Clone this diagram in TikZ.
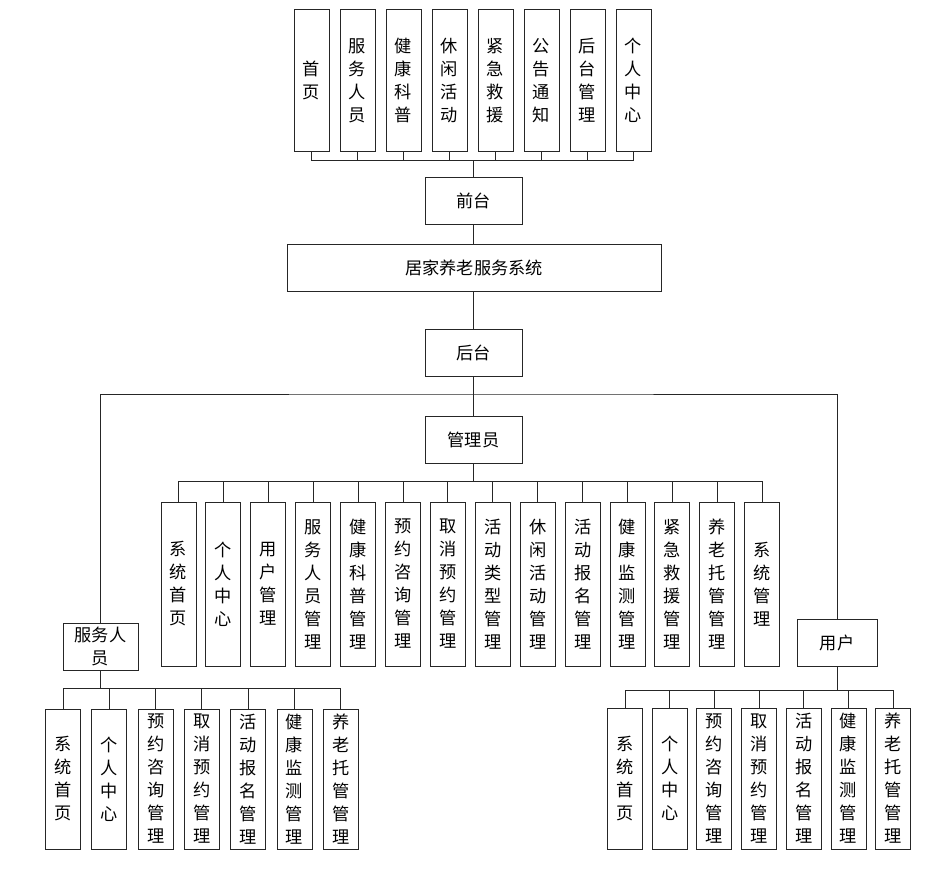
\documentclass[tikz,border=0pt]{standalone}
\usepackage{fontspec}
\setmainfont{Noto Sans CJK SC}
\usetikzlibrary{positioning}
\tikzset{
    box/.style={draw=black!85, line width=0.5pt, minimum width=48.5pt, minimum height=23.5pt, inner sep=0pt, align=center, font=\fontsize{8.6}{11.5}\selectfont},
    tallbox/.style={draw=black!85, line width=0.5pt, minimum width=17.5pt, inner sep=0pt, align=center, font=\fontsize{8.6}{11.5}\selectfont},
    wire/.style={line width=0.5pt, black!85}
}
\begin{document}
\begin{tikzpicture}[x=0.5pt, y=-0.5pt]
    \useasboundingbox (0,0) rectangle (946,872);
    % front end
    \node[box] (qiantai) at (473.5,200.5) {前台};
    \coordinate (fbus) at (473.5,160);
    \foreach \i/\t in {0/{首\\页}, 1/{服\\务\\人\\员}, 2/{健\\康\\科\\普}, 3/{休\\闲\\活\\动},
                       4/{紧\\急\\救\\援}, 5/{公\\告\\通\\知}, 6/{后\\台\\管\\理}, 7/{个\\人\\中\\心}} {
        \node[tallbox, minimum height=70.5pt] (f\i) at (311.5+46*\i,80.5) {\t};
        \draw[wire] (f\i.south) |- (fbus) -- (qiantai.north);
    }
    \node[box, minimum width=187pt] (sys) at (474,267.5) {居家养老服务系统};
    \draw[wire] (qiantai.south) -- (sys.north -| qiantai.south);
    % back end
    \node[box] (houtai) at (473.5,353) {后台};
    \draw[wire] (sys.south -| houtai.north) -- (houtai.north);
    \node[box] (admin) at (473.5,439.5) {管理员};
    \draw[wire] (houtai.south) -- (admin.north);
    \node[box, minimum width=37.5pt] (staff) at (100.5,646.5) {服务人\\员};
    \node[box, minimum width=40pt] (user) at (837,642.5) {用户};
    \coordinate (split) at (473.5,394);
    \draw[wire] (staff.north) |- (split) -| (user.north);
    % admin
    \coordinate (abus) at (473.5,481);
    \foreach \i/\t in {0/{系\\统\\首\\页}, 1/{个\\人\\中\\心}, 2/{用\\户\\管\\理}, 3/{服\\务\\人\\员\\管\\理},
                       4/{健\\康\\科\\普\\管\\理}, 5/{预\\约\\咨\\询\\管\\理}, 6/{取\\消\\预\\约\\管\\理},
                       7/{活\\动\\类\\型\\管\\理}, 8/{休\\闲\\活\\动\\管\\理}, 9/{活\\动\\报\\名\\管\\理},
                       10/{健\\康\\监\\测\\管\\理}, 11/{紧\\急\\救\\援\\管\\理}, 12/{养\\老\\托\\管\\管\\理},
                       13/{系\\统\\管\\理}} {
        \node[tallbox, minimum height=82pt] (a\i) at (178.5+44.9*\i,584) {\t};
        \draw[wire] (a\i.north) |- (abus) -- (admin.south);
    }
    % service staff
    \coordinate (sbus) at (100.5,688);
    \foreach \i/\t in {0/{系\\统\\首\\页}, 1/{个\\人\\中\\心}, 2/{预\\约\\咨\\询\\管\\理}, 3/{取\\消\\预\\约\\管\\理},
                       4/{活\\动\\报\\名\\管\\理}, 5/{健\\康\\监\\测\\管\\理}, 6/{养\\老\\托\\管\\管\\理}} {
        \node[tallbox, minimum height=70pt] (s\i) at (63+46.3*\i,779) {\t};
        \draw[wire] (s\i.north) |- (sbus) -- (staff.south);
    }
    % user
    \coordinate (ubus) at (837,690);
    \foreach \i/\t in {0/{系\\统\\首\\页}, 1/{个\\人\\中\\心}, 2/{预\\约\\咨\\询\\管\\理}, 3/{取\\消\\预\\约\\管\\理},
                       4/{活\\动\\报\\名\\管\\理}, 5/{健\\康\\监\\测\\管\\理}, 6/{养\\老\\托\\管\\管\\理}} {
        \node[tallbox, minimum height=70.5pt] (u\i) at (625+44.7*\i,778.5) {\t};
        \draw[wire] (u\i.north) |- (ubus) -- (user.south);
    }
\end{tikzpicture}
\end{document}
